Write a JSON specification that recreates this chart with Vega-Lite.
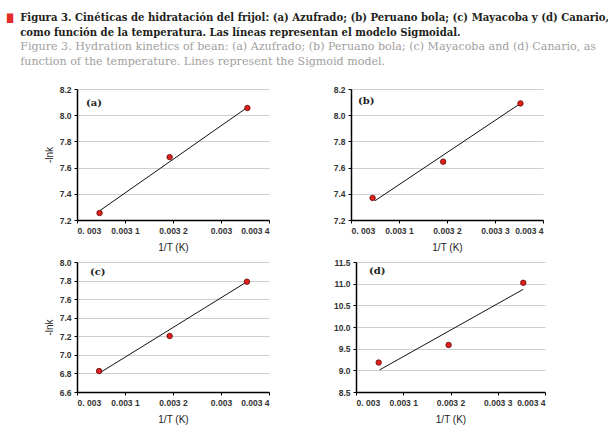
{
  "$schema": "https://vega.github.io/schema/vega-lite/v6.json",
  "background": "white",
  "padding": {"left": 7, "top": 12, "right": 5, "bottom": 5},
  "title": {"text": "█", "orient": "left", "anchor": "end", "angle": 0, "color": "#e52a2a", "fontSize": 8, "font": "DejaVu Sans", "offset": 7, "align": "left", "baseline": "top", "dy": 2},
  "datasets": {
    "pts": [
      {"panel": "a", "x": 0.003047, "y": 7.253},
      {"panel": "a", "x": 0.003193, "y": 7.68},
      {"panel": "a", "x": 0.003355, "y": 8.055},
      {"panel": "b", "x": 0.003045, "y": 7.368},
      {"panel": "b", "x": 0.003192, "y": 7.645},
      {"panel": "b", "x": 0.003353, "y": 8.09},
      {"panel": "c", "x": 0.003046, "y": 6.826},
      {"panel": "c", "x": 0.003193, "y": 7.203},
      {"panel": "c", "x": 0.003354, "y": 7.788},
      {"panel": "d", "x": 0.003048, "y": 9.18},
      {"panel": "d", "x": 0.003196, "y": 9.587},
      {"panel": "d", "x": 0.003354, "y": 11.02}
    ],
    "fit": [
      {"panel": "a", "x": 0.003047, "y": 7.27},
      {"panel": "a", "x": 0.003355, "y": 8.06},
      {"panel": "b", "x": 0.00305, "y": 7.347},
      {"panel": "b", "x": 0.003349, "y": 8.08},
      {"panel": "c", "x": 0.003048, "y": 6.808},
      {"panel": "c", "x": 0.003353, "y": 7.784},
      {"panel": "d", "x": 0.00305, "y": 9.01},
      {"panel": "d", "x": 0.003354, "y": 10.87}
    ]
  },
  "vconcat": [
    {
      "title": {
        "text": ["Figura 3. Cinéticas de hidratación del frijol: (a) Azufrado; (b) Peruano bola; (c) Mayacoba y (d) Canario,", "como función de la temperatura. Las líneas representan el modelo Sigmoidal."],
        "subtitle": ["Figure 3. Hydration kinetics of bean: (a) Azufrado;  (b) Peruano bola; (c) Mayacoba and (d) Canario, as", "function of the temperature. Lines represent the Sigmoid model."],
        "anchor": "start",
        "dx": -24,
        "font": "DejaVu Serif",
        "fontSize": 10.1,
        "fontWeight": "bold",
        "color": "#231f20",
        "lineHeight": 15.5,
        "subtitleFont": "DejaVu Serif",
        "subtitleFontSize": 11.1,
        "subtitleColor": "#a0a0a0",
        "subtitleLineHeight": 14.5,
        "subtitlePadding": 3,
        "offset": 18,
        "limit": 0
      },
      "spacing": 5,
      "vconcat": [
        {
          "spacing": 63,
          "hconcat": [
            {
              "width": 192, "height": 131,
              "title": {"text": "(a)", "anchor": "start", "frame": "group", "offset": -23, "dx": 9, "font": "DejaVu Serif", "fontSize": 10, "fontWeight": "bold", "color": "#222"},
              "layer": [
                {"data": {"name": "fit"}, "transform": [{"filter": "datum.panel == 'a'"}], "mark": {"type": "line", "color": "#111", "strokeWidth": 1}},
                {"data": {"name": "pts"}, "transform": [{"filter": "datum.panel == 'a'"}], "mark": {"type": "circle", "size": 30, "opacity": 1, "color": "#e3201b", "stroke": "#5a0a0a", "strokeWidth": 0.8}}
              ],
              "encoding": {
                "x": {"field": "x", "type": "quantitative", "scale": {"domain": [0.003, 0.0034], "nice": false, "zero": false}, "axis": {"title": "1/T (K)", "values": [0.003, 0.0031, 0.0032, 0.0033, 0.0034], "labelExpr": "round(datum.value*1e4)==30 ? '0. 003' : round(datum.value*1e4)==33 ? '0.003' : '0.003 ' + (round(datum.value*1e4)-30)"}},
                "y": {"field": "y", "type": "quantitative", "scale": {"domain": [7.2, 8.2], "nice": false, "zero": false}, "axis": {"title": "-lnk", "values": [7.2, 7.4, 7.6, 7.8, 8.0, 8.2], "format": ".1f"}}
              }
            },
            {
              "width": 192, "height": 131,
              "title": {"text": "(b)", "anchor": "start", "frame": "group", "offset": -21, "dx": 7, "font": "DejaVu Serif", "fontSize": 10, "fontWeight": "bold", "color": "#222"},
              "layer": [
                {"data": {"name": "fit"}, "transform": [{"filter": "datum.panel == 'b'"}], "mark": {"type": "line", "color": "#111", "strokeWidth": 1}},
                {"data": {"name": "pts"}, "transform": [{"filter": "datum.panel == 'b'"}], "mark": {"type": "circle", "size": 30, "opacity": 1, "color": "#e3201b", "stroke": "#5a0a0a", "strokeWidth": 0.8}}
              ],
              "encoding": {
                "x": {"field": "x", "type": "quantitative", "scale": {"domain": [0.003, 0.0034], "nice": false, "zero": false}, "axis": {"title": "1/T (K)", "values": [0.003, 0.0031, 0.0032, 0.0033, 0.0034], "labelExpr": "round(datum.value*1e4)==30 ? '0. 003' : '0.003 ' + (round(datum.value*1e4)-30)"}},
                "y": {"field": "y", "type": "quantitative", "scale": {"domain": [7.2, 8.2], "nice": false, "zero": false}, "axis": {"title": null, "values": [7.2, 7.4, 7.6, 7.8, 8.0, 8.2], "format": ".1f"}}
              }
            }
          ]
        },
        {
          "spacing": 63,
          "hconcat": [
            {
              "width": 192, "height": 130,
              "title": {"text": "(c)", "anchor": "start", "frame": "group", "offset": -19, "dx": 13, "font": "DejaVu Serif", "fontSize": 10, "fontWeight": "bold", "color": "#222"},
              "layer": [
                {"data": {"name": "fit"}, "transform": [{"filter": "datum.panel == 'c'"}], "mark": {"type": "line", "color": "#111", "strokeWidth": 1}},
                {"data": {"name": "pts"}, "transform": [{"filter": "datum.panel == 'c'"}], "mark": {"type": "circle", "size": 30, "opacity": 1, "color": "#e3201b", "stroke": "#5a0a0a", "strokeWidth": 0.8}}
              ],
              "encoding": {
                "x": {"field": "x", "type": "quantitative", "scale": {"domain": [0.003, 0.0034], "nice": false, "zero": false}, "axis": {"title": "1/T (K)", "values": [0.003, 0.0031, 0.0032, 0.0033, 0.0034], "labelExpr": "round(datum.value*1e4)==30 ? '0. 003' : round(datum.value*1e4)==33 ? '0.003' : '0.003 ' + (round(datum.value*1e4)-30)"}},
                "y": {"field": "y", "type": "quantitative", "scale": {"domain": [6.6, 8.0], "nice": false, "zero": false}, "axis": {"title": "-lnk", "values": [6.6, 6.8, 7.0, 7.2, 7.4, 7.6, 7.8, 8.0], "format": ".1f"}}
              }
            },
            {
              "width": 189, "height": 130,
              "title": {"text": "(d)", "anchor": "start", "frame": "group", "offset": -18, "dx": 13, "font": "DejaVu Serif", "fontSize": 10, "fontWeight": "bold", "color": "#222"},
              "layer": [
                {"data": {"name": "fit"}, "transform": [{"filter": "datum.panel == 'd'"}], "mark": {"type": "line", "color": "#111", "strokeWidth": 1}},
                {"data": {"name": "pts"}, "transform": [{"filter": "datum.panel == 'd'"}], "mark": {"type": "circle", "size": 30, "opacity": 1, "color": "#e3201b", "stroke": "#5a0a0a", "strokeWidth": 0.8}}
              ],
              "encoding": {
                "x": {"field": "x", "type": "quantitative", "scale": {"domain": [0.003, 0.0034], "nice": false, "zero": false}, "axis": {"title": "1/T (K)", "values": [0.003, 0.0031, 0.0032, 0.0033, 0.0034], "labelExpr": "round(datum.value*1e4)==30 ? '0. 003' : '0.003 ' + (round(datum.value*1e4)-30)"}},
                "y": {"field": "y", "type": "quantitative", "scale": {"domain": [8.5, 11.5], "nice": false, "zero": false}, "axis": {"title": null, "values": [8.5, 9.0, 9.5, 10.0, 10.5, 11.0, 11.5], "format": ".1f"}}
              }
            }
          ]
        }
      ]
    }
  ],
  "config": {
    "view": {"stroke": null},
    "axis": {
      "labelFont": "Liberation Sans", "labelFontWeight": "bold", "labelFontSize": 8.5, "labelColor": "#333",
      "domainColor": "#000", "domainWidth": 1.5, "tickColor": "#000", "tickSize": 3, "tickWidth": 1,
      "titleFont": "Liberation Sans", "titleFontWeight": "normal", "titleFontSize": 10, "titleColor": "#222",
      "labelPadding": 3
    },
    "axisX": {"grid": false, "titlePadding": 8},
    "axisY": {"grid": true, "gridColor": "#cfcfcf", "gridWidth": 1, "titlePadding": 5}
  }
}
